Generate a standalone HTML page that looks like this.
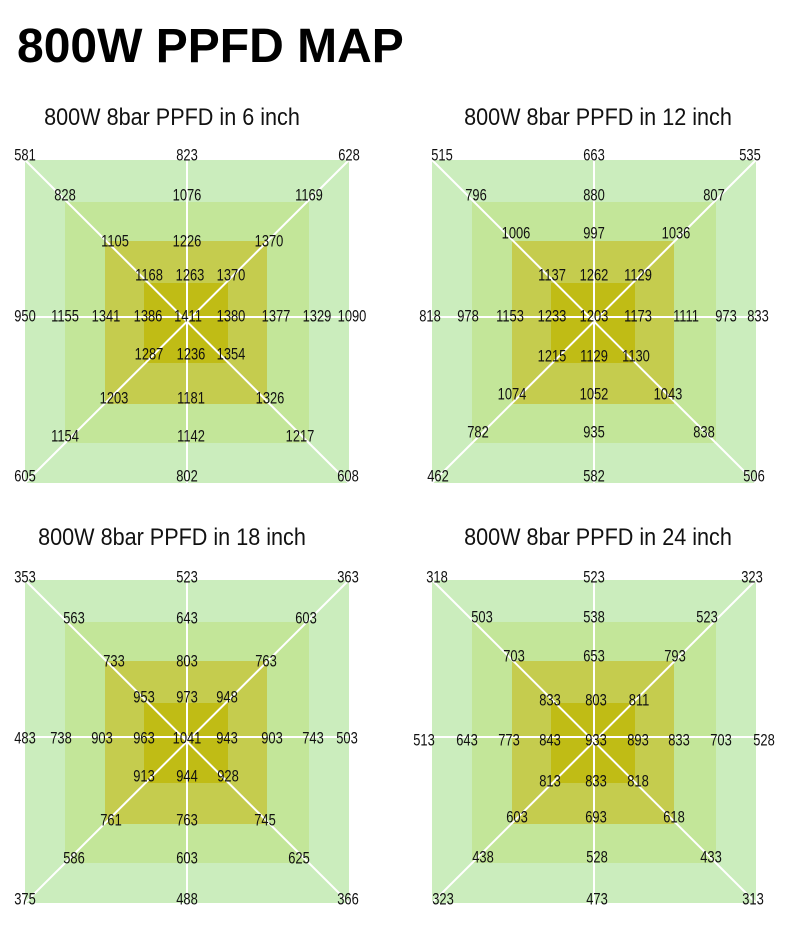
<!DOCTYPE html>
<html><head><meta charset="utf-8"><style>
body{margin:0;background:#fff;}
svg{display:block}
.t{font-family:"Liberation Sans Narrow","Liberation Sans",sans-serif;font-size:17px;fill:#111;text-anchor:middle;dominant-baseline:middle;transform-box:fill-box;transform-origin:center;transform:scaleX(0.76)}
.h{font-family:"Liberation Sans",sans-serif;font-size:24px;fill:#111;text-anchor:middle;transform-box:fill-box;transform-origin:center;transform:scaleX(0.9)}
</style></head><body>
<svg width="790" height="926" viewBox="0 0 790 926">
<defs>
<g id="base">
<rect x="-162" y="-162" width="324" height="323" fill="#cbedbd"/>
<rect x="-122" y="-120" width="244" height="241" fill="#c3e699"/>
<rect x="-82" y="-81" width="162" height="163" fill="#c5cc4e"/>
<rect x="-43" y="-39" width="84" height="80" fill="#c0bc15"/>
<g stroke="#fff" stroke-width="2">
<line x1="-162" y1="-162" x2="162" y2="161"/>
<line x1="162" y1="-162" x2="-162" y2="161"/>
<line x1="-162" y1="-5" x2="162" y2="-5"/>
<line x1="0" y1="-162" x2="0" y2="161"/>
</g>
</g>
</defs>
<text x="17" y="62" style="font-family:'Liberation Sans',sans-serif;font-weight:bold;font-size:48px;fill:#000">800W PPFD MAP</text>
<text class="h" x="172" y="125">800W 8bar PPFD in 6 inch</text>
<text class="h" x="598" y="125">800W 8bar PPFD in 12 inch</text>
<text class="h" x="172" y="545">800W 8bar PPFD in 18 inch</text>
<text class="h" x="598" y="545">800W 8bar PPFD in 24 inch</text>

<g transform="translate(187,322)">
<use href="#base"/>
<text class="t" x="-162" y="-166">581</text><text class="t" x="0" y="-166">823</text><text class="t" x="162" y="-166">628</text>
<text class="t" x="-122" y="-126">828</text><text class="t" x="0" y="-126">1076</text><text class="t" x="122" y="-126">1169</text>
<text class="t" x="-72" y="-80">1105</text><text class="t" x="0" y="-80">1226</text><text class="t" x="82" y="-80">1370</text>
<text class="t" x="-38" y="-46">1168</text><text class="t" x="3" y="-46">1263</text><text class="t" x="44" y="-46">1370</text>
<text class="t" x="-162" y="-5">950</text><text class="t" x="-122" y="-5">1155</text><text class="t" x="-81" y="-5">1341</text><text class="t" x="-39" y="-5">1386</text><text class="t" x="1" y="-5">1411</text><text class="t" x="44" y="-5">1380</text><text class="t" x="89" y="-5">1377</text><text class="t" x="130" y="-5">1329</text><text class="t" x="165" y="-5">1090</text>
<text class="t" x="-38" y="33">1287</text><text class="t" x="4" y="33">1236</text><text class="t" x="44" y="33">1354</text>
<text class="t" x="-73" y="77">1203</text><text class="t" x="4" y="77">1181</text><text class="t" x="83" y="77">1326</text>
<text class="t" x="-122" y="115">1154</text><text class="t" x="4" y="115">1142</text><text class="t" x="113" y="115">1217</text>
<text class="t" x="-162" y="155">605</text><text class="t" x="0" y="155">802</text><text class="t" x="161" y="155">608</text>
</g>

<g transform="translate(594,322)">
<use href="#base"/>
<text class="t" x="-152" y="-166">515</text><text class="t" x="0" y="-166">663</text><text class="t" x="156" y="-166">535</text>
<text class="t" x="-118" y="-126">796</text><text class="t" x="0" y="-126">880</text><text class="t" x="120" y="-126">807</text>
<text class="t" x="-78" y="-88">1006</text><text class="t" x="0" y="-88">997</text><text class="t" x="82" y="-88">1036</text>
<text class="t" x="-42" y="-46">1137</text><text class="t" x="0" y="-46">1262</text><text class="t" x="44" y="-46">1129</text>
<text class="t" x="-164" y="-5">818</text><text class="t" x="-126" y="-5">978</text><text class="t" x="-84" y="-5">1153</text><text class="t" x="-42" y="-5">1233</text><text class="t" x="0" y="-5">1203</text><text class="t" x="44" y="-5">1173</text><text class="t" x="92" y="-5">1111</text><text class="t" x="132" y="-5">973</text><text class="t" x="164" y="-5">833</text>
<text class="t" x="-42" y="35">1215</text><text class="t" x="0" y="35">1129</text><text class="t" x="42" y="35">1130</text>
<text class="t" x="-82" y="73">1074</text><text class="t" x="0" y="73">1052</text><text class="t" x="74" y="73">1043</text>
<text class="t" x="-116" y="111">782</text><text class="t" x="0" y="111">935</text><text class="t" x="110" y="111">838</text>
<text class="t" x="-156" y="155">462</text><text class="t" x="0" y="155">582</text><text class="t" x="160" y="155">506</text>
</g>

<g transform="translate(187,742)">
<use href="#base"/>
<text class="t" x="-162" y="-164">353</text><text class="t" x="0" y="-164">523</text><text class="t" x="161" y="-164">363</text>
<text class="t" x="-113" y="-123">563</text><text class="t" x="0" y="-123">643</text><text class="t" x="119" y="-123">603</text>
<text class="t" x="-73" y="-80">733</text><text class="t" x="0" y="-80">803</text><text class="t" x="79" y="-80">763</text>
<text class="t" x="-43" y="-44">953</text><text class="t" x="0" y="-44">973</text><text class="t" x="40" y="-44">948</text>
<text class="t" x="-162" y="-3">483</text><text class="t" x="-126" y="-3">738</text><text class="t" x="-85" y="-3">903</text><text class="t" x="-43" y="-3">963</text><text class="t" x="0" y="-3">1041</text><text class="t" x="40" y="-3">943</text><text class="t" x="85" y="-3">903</text><text class="t" x="126" y="-3">743</text><text class="t" x="160" y="-3">503</text>
<text class="t" x="-43" y="35">913</text><text class="t" x="0" y="35">944</text><text class="t" x="41" y="35">928</text>
<text class="t" x="-76" y="79">761</text><text class="t" x="0" y="79">763</text><text class="t" x="78" y="79">745</text>
<text class="t" x="-113" y="117">586</text><text class="t" x="0" y="117">603</text><text class="t" x="112" y="117">625</text>
<text class="t" x="-162" y="158">375</text><text class="t" x="0" y="158">488</text><text class="t" x="161" y="158">366</text>
</g>

<g transform="translate(594,742)">
<use href="#base"/>
<text class="t" x="-157" y="-164">318</text><text class="t" x="0" y="-164">523</text><text class="t" x="158" y="-164">323</text>
<text class="t" x="-112" y="-124">503</text><text class="t" x="0" y="-124">538</text><text class="t" x="113" y="-124">523</text>
<text class="t" x="-80" y="-85">703</text><text class="t" x="0" y="-85">653</text><text class="t" x="81" y="-85">793</text>
<text class="t" x="-44" y="-41">833</text><text class="t" x="2" y="-41">803</text><text class="t" x="45" y="-41">811</text>
<text class="t" x="-170" y="-1">513</text><text class="t" x="-127" y="-1">643</text><text class="t" x="-85" y="-1">773</text><text class="t" x="-44" y="-1">843</text><text class="t" x="2" y="-1">933</text><text class="t" x="44" y="-1">893</text><text class="t" x="85" y="-1">833</text><text class="t" x="127" y="-1">703</text><text class="t" x="170" y="-1">528</text>
<text class="t" x="-44" y="40">813</text><text class="t" x="2" y="40">833</text><text class="t" x="44" y="40">818</text>
<text class="t" x="-77" y="76">603</text><text class="t" x="2" y="76">693</text><text class="t" x="80" y="76">618</text>
<text class="t" x="-111" y="116">438</text><text class="t" x="3" y="116">528</text><text class="t" x="117" y="116">433</text>
<text class="t" x="-151" y="158">323</text><text class="t" x="3" y="158">473</text><text class="t" x="159" y="158">313</text>
</g>
</svg>
</body></html>
